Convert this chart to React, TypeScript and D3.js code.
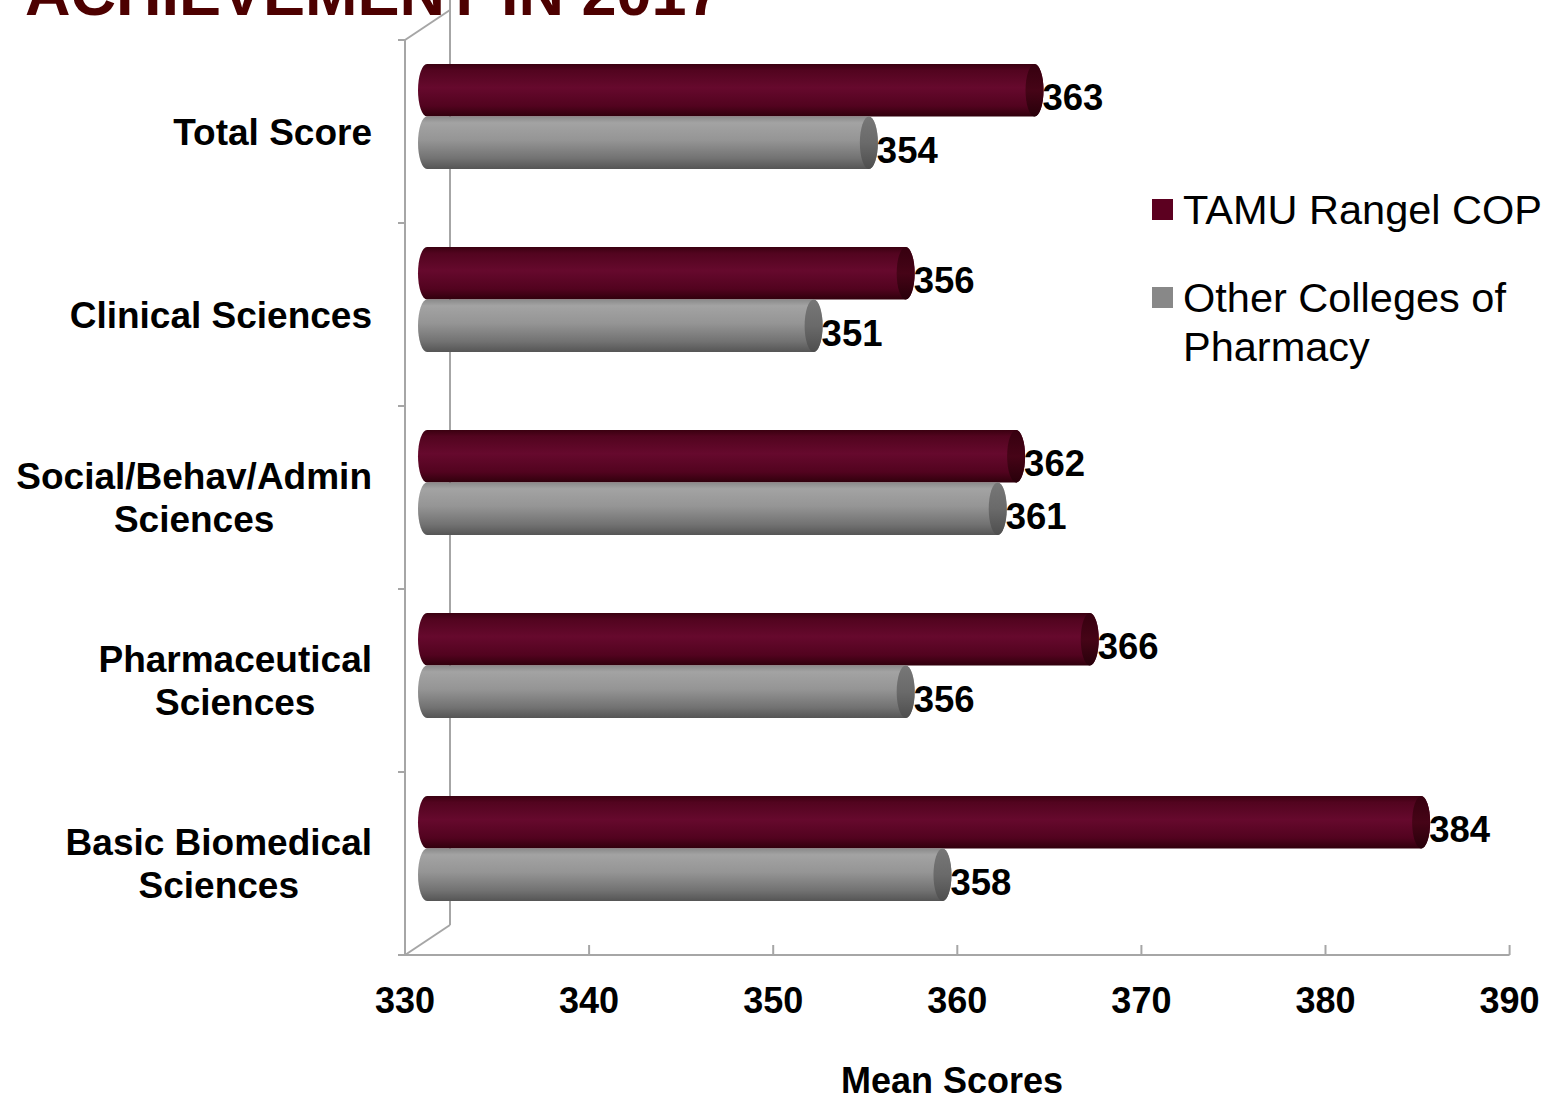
import React from "react";
import * as d3 from "d3";

const categories = ["Total Score", "Clinical Sciences", "Social/Behav/Admin Sciences", "Pharmaceutical Sciences", "Basic Biomedical Sciences"];
const categoryLines = [["Total Score"], ["Clinical Sciences"], ["Social/Behav/Admin", "Sciences"], ["Pharmaceutical", "Sciences"], ["Basic Biomedical", "Sciences"]];
const tamuValues = [363, 356, 362, 366, 384];
const otherValues = [354, 351, 361, 356, 358];
const xTicks = [330, 340, 350, 360, 370, 380, 390];
const seriesNames = ["TAMU Rangel COP", "Other Colleges of Pharmacy"];
const legendLines = [["TAMU Rangel COP"], ["Other Colleges of", "Pharmacy"]];
const titleText = "ACHIEVEMENT IN 2017";
const xTitle = "Mean Scores";

const W = 1558, H = 1098;
const FONT = "'Liberation Sans', Arial, Helvetica, sans-serif";
const axisColor = "#a6a6a6";

let measureCtx: CanvasRenderingContext2D | null = null;
function measure(text: string, font: string): number {
  if (!measureCtx) {
    const c = document.createElement("canvas");
    measureCtx = c.getContext("2d");
  }
  if (!measureCtx) return text.length * 20;
  measureCtx.font = font;
  return measureCtx.measureText(text).width;
}

export default function App() {
  const x = d3.scaleLinear().domain([330, 390]).range([405, 1509.6]);
  const y = d3.scaleBand<string>().domain(categories).range([40, 955]).padding(0);
  const wallDx = 45, wallDy = -30;
  const barDx = 22, barDy = -15;
  const barH = 52.5;
  const rx = 9;
  const catFontSize = 37;

  const cylinder = (v: number, top: number, kind: "red" | "gray", key: string) => {
    const x0 = x(330) + barDx;
    const x1 = x(v) + barDx;
    const h = barH;
    const ry = h / 2;
    const body = `M${x0},${top} L${x1},${top} A${rx},${ry} 0 0 1 ${x1},${top + h} L${x0},${top + h} A${rx},${ry} 0 0 1 ${x0},${top} Z`;
    return (
      <g key={key}>
        <path d={body} fill={`url(#grad-${kind})`} />
        <ellipse cx={x1} cy={top + ry} rx={rx} ry={ry} fill={`url(#cap-${kind})`} />
      </g>
    );
  };

  return (
    <svg width={W} height={H} style={{ position: "absolute", left: 0, top: 0, background: "#fff" }} fontFamily={FONT}>
      <defs>
        <linearGradient id="grad-red" x1="0" y1="0" x2="0" y2="1">
          <stop offset="0" stopColor="#3a0010" />
          <stop offset="0.12" stopColor="#52041f" />
          <stop offset="0.45" stopColor="#66092d" />
          <stop offset="0.8" stopColor="#52031f" />
          <stop offset="1" stopColor="#30000c" />
        </linearGradient>
        <linearGradient id="cap-red" x1="0" y1="0" x2="0" y2="1">
          <stop offset="0" stopColor="#36000f" />
          <stop offset="0.5" stopColor="#460417" />
          <stop offset="1" stopColor="#28000a" />
        </linearGradient>
        <linearGradient id="grad-gray" x1="0" y1="0" x2="0" y2="1">
          <stop offset="0" stopColor="#8a8a8a" />
          <stop offset="0.12" stopColor="#a3a3a3" />
          <stop offset="0.45" stopColor="#959595" />
          <stop offset="0.8" stopColor="#727272" />
          <stop offset="1" stopColor="#555555" />
        </linearGradient>
        <linearGradient id="cap-gray" x1="0" y1="0" x2="0" y2="1">
          <stop offset="0" stopColor="#777777" />
          <stop offset="0.5" stopColor="#6a6a6a" />
          <stop offset="1" stopColor="#4e4e4e" />
        </linearGradient>
      </defs>

      {/* Title (partially cut off at top) */}
      <text x={25} y={15} fontSize={63} fontWeight="bold" fill="#4d0000">{titleText}</text>

      {/* Walls */}
      <g stroke={axisColor} strokeWidth={2} fill="none">
        <line x1={405 + wallDx} y1={0} x2={405 + wallDx} y2={955 + wallDy} />
        <line x1={405} y1={40} x2={405 + wallDx} y2={40 + wallDy} />
        <line x1={405} y1={955} x2={405 + wallDx} y2={955 + wallDy} />
        <line x1={405} y1={40} x2={405} y2={955} />
        <line x1={405} y1={955} x2={x(390)} y2={955} />
        {categories.map((c) => (
          <line key={c} x1={398} y1={y(c)!} x2={405} y2={y(c)!} />
        ))}
        <line x1={398} y1={955} x2={405} y2={955} />
        {xTicks.map((t) => (
          <line key={t} x1={x(t)} y1={945} x2={x(t)} y2={955} />
        ))}
      </g>

      {/* Bars */}
      {categories.map((c, i) => {
        const center = y(c)! + y.bandwidth() / 2 + barDy;
        const topRed = center - barH;
        const topGray = center;
        return (
          <g key={c}>
            {cylinder(tamuValues[i], topRed, "red", c + "r")}
            {cylinder(otherValues[i], topGray, "gray", c + "g")}
            <text x={x(tamuValues[i]) + barDx + rx - 1} y={topRed + barH / 2 + 20} fontSize={36.5} fontWeight="bold" fill="#000">{tamuValues[i]}</text>
            <text x={x(otherValues[i]) + barDx + rx - 1} y={topGray + barH / 2 + 20} fontSize={36.5} fontWeight="bold" fill="#000">{otherValues[i]}</text>
          </g>
        );
      })}

      {/* Category labels (block right-aligned, lines centred) */}
      {categories.map((c, i) => {
        const lines = categoryLines[i];
        const cy = y(c)! + y.bandwidth() / 2;
        const lh = 43;
        const start = cy - ((lines.length - 1) * lh) / 2 + 13;
        const maxW = Math.max(...lines.map((l) => measure(l, `bold ${catFontSize}px ${FONT}`)));
        const cx = 372 - maxW / 2;
        return (
          <text key={c} x={cx} textAnchor="middle" fontSize={catFontSize} fontWeight="bold" fill="#000">
            {lines.map((l, j) => (
              <tspan key={j} x={cx} y={start + j * lh}>{l}</tspan>
            ))}
          </text>
        );
      })}

      {/* X tick labels */}
      {xTicks.map((t) => (
        <text key={t} x={x(t)} y={1013} textAnchor="middle" fontSize={36} fontWeight="bold" fill="#000">{t}</text>
      ))}
      <text x={952} y={1093} textAnchor="middle" fontSize={36} fontWeight="bold" fill="#000">{xTitle}</text>

      {/* Legend */}
      {seriesNames.map((s, i) => {
        const top = i === 0 ? 199 : 287;
        return (
          <g key={s}>
            <rect x={1152} y={top} width={21} height={21} fill={i === 0 ? "#5c0020" : "#888888"} />
            <text fontSize={41.5} fill="#000">
              {legendLines[i].map((l, j) => (
                <tspan key={j} x={1183} y={top + 25 + j * 49}>{l}</tspan>
              ))}
            </text>
          </g>
        );
      })}
    </svg>
  );
}
